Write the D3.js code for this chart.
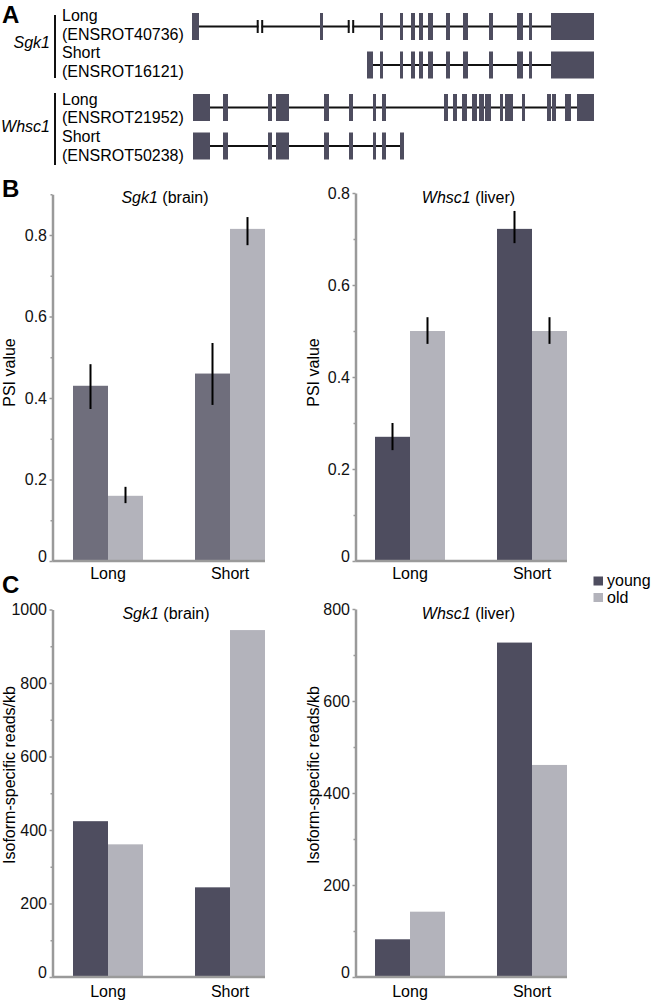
<!DOCTYPE html>
<html><head><meta charset="utf-8">
<script src="https://cdn.jsdelivr.net/npm/d3@7"></script>
<style>body{margin:0;background:#fff} text{font-family:"Liberation Sans",Arial,Helvetica,sans-serif}</style>
</head><body><svg id="c" width="652" height="1002"></svg>
<script>
// ---------- DATA ----------
const categories = ["Long", "Short"];
const seriesNames = ["young", "old"];

// Panel B: PSI values
const psiSgk1Young = [0.43, 0.46];
const psiSgk1Old = [0.16, 0.815];
const psiSgk1YoungErr = [[0.373, 0.483], [0.383, 0.535]];
const psiSgk1OldErr = [[0.142, 0.182], [0.775, 0.844]];
const psiWhsc1Young = [0.27, 0.722];
const psiWhsc1Old = [0.50, 0.50];
const psiWhsc1YoungErr = [[0.241, 0.30], [0.691, 0.761]];
const psiWhsc1OldErr = [[0.472, 0.53], [0.472, 0.53]];
const psiTicks = [0, 0.2, 0.4, 0.6, 0.8];
const psiMinorSgk1 = [0.1, 0.3, 0.5, 0.7, 0.9];
const psiMinorWhsc1 = [0.1, 0.3, 0.5, 0.7];

// Panel C: isoform-specific reads/kb
const readsSgk1Young = [424, 244];
const readsSgk1Old = [361, 944];
const readsWhsc1Young = [82, 727];
const readsWhsc1Old = [142, 461];
const readsTicksSgk1 = [0, 200, 400, 600, 800, 1000];
const readsMinorSgk1 = [100, 300, 500, 700, 900];
const readsTicksWhsc1 = [0, 200, 400, 600, 800];
const readsMinorWhsc1 = [100, 300, 500, 700];

// Panel A: gene structures (relative gene coordinates)
const geneNames = ["Sgk1", "Whsc1"];
const isoformLabels = ["Long", "Short", "Long", "Short"];
const isoformIds = ["(ENSROT40736)", "(ENSROT16121)", "(ENSROT21952)", "(ENSROT50238)"];
const exonsSgk1Long = [[0,7],[128,131],[188,191],[208,211],[219,223],[227,231],[236,241],[254,258],[271,276],[297,301],[325,331],[337,340],[359,402]];
const exonsSgk1Short = [[175,181],[188,191],[208,211],[219,223],[227,231],[236,241],[254,258],[271,276],[297,301],[325,331],[337,340],[359,402]];
const exonsWhsc1Long = [[1,18],[31,36],[76,80],[84,97],[132,137],[157,161],[181,184],[190,194],[252,256],[261,265],[270,275],[280,285],[287,292],[293,299],[308,311],[313,321],[330,333],[355,359],[360,364],[373,379],[385,402]];
const exonsWhsc1Short = [[1,18],[31,36],[76,80],[84,97],[132,137],[157,161],[181,184],[190,194],[208,212]];
const breaksSgk1Long = [68, 159];

// ---------- STYLE ----------
const DARK = "#4e4d5f", DARK_B = "#6f6e7c", LIGHT = "#b3b3bb", AXIS = "#9a9a9a";
const svg = d3.select("#c");

// ---------- PANEL A ----------
const xg = d3.scaleLinear().domain([0, 402]).range([192, 594]);
const rows = [
  {exons: exonsSgk1Long, breaks: breaksSgk1Long, cy: 26.5},
  {exons: exonsSgk1Short, breaks: [], cy: 65},
  {exons: exonsWhsc1Long, breaks: [], cy: 107.5},
  {exons: exonsWhsc1Short, breaks: [], cy: 146}
];
const gA = svg.append("g");
rows.forEach(r => {
  const s = d3.min(r.exons, d => d[0]), e = d3.max(r.exons, d => d[1]);
  gA.append("line").attr("x1", xg(s)).attr("x2", xg(e)).attr("y1", r.cy).attr("y2", r.cy)
    .attr("stroke", "#111").attr("stroke-width", 2);
  r.breaks.forEach(b => {
    const c = xg(b);
    gA.append("rect").attr("x", c - 1.5).attr("y", r.cy - 2).attr("width", 3).attr("height", 4).attr("fill", "#fff");
    gA.append("rect").attr("x", c - 3.3).attr("y", r.cy - 6.5).attr("width", 2).attr("height", 13).attr("fill", "#111");
    gA.append("rect").attr("x", c + 1.2).attr("y", r.cy - 6.5).attr("width", 2).attr("height", 13).attr("fill", "#111");
  });
  gA.selectAll(null).data(r.exons).join("rect")
    .attr("x", d => xg(d[0])).attr("width", d => xg(d[1]) - xg(d[0]))
    .attr("y", r.cy - 13.5).attr("height", 27).attr("fill", DARK);
});
// labels
const labelBase = [21, 39.5, 58, 77, 104.5, 123, 142, 161];
isoformLabels.forEach((l, i) => {
  gA.append("text").attr("x", 62).attr("y", labelBase[i*2]).attr("font-size", 16).text(l);
  gA.append("text").attr("x", 62).attr("y", labelBase[i*2+1]).attr("font-size", 16).text(isoformIds[i]);
});
[[15, 78, 47.5], [93, 165, 132]].forEach((v, i) => {
  gA.append("line").attr("x1", 55).attr("x2", 55).attr("y1", v[0]).attr("y2", v[1]).attr("stroke", "#111").attr("stroke-width", 2);
  gA.append("text").attr("x", 50).attr("y", v[2]).attr("text-anchor", "end").attr("font-size", 16)
    .attr("font-style", "italic").text(geneNames[i]);
});

// panel letters
[["A", 23], ["B", 197], ["C", 593]].forEach(([t, y]) => {
  svg.append("text").attr("x", 2).attr("y", y).attr("font-size", 24).attr("font-weight", "bold").text(t);
});

// ---------- BAR CHART ----------
function barChart(o) {
  const g = svg.append("g");
  const y = d3.scaleLinear().domain([0, o.axisMax]).range([o.yBase, o.yTop]);
  const x0 = d3.scaleBand().domain(categories).range([o.barStart, o.barEnd]).paddingInner(52/122).paddingOuter(0);
  const x1 = d3.scaleBand().domain(seriesNames).range([0, x0.bandwidth()]);
  const color = {young: o.youngColor, old: LIGHT};
  const vals = {young: o.young, old: o.old};
  const errs = {young: o.youngErr, old: o.oldErr};

  seriesNames.forEach(s => {
    g.selectAll(null).data(categories).join("rect")
      .attr("x", c => x0(c) + x1(s)).attr("width", x1.bandwidth())
      .attr("y", (c, i) => y(vals[s][i])).attr("height", (c, i) => o.yBase - y(vals[s][i]))
      .attr("fill", color[s]);
    if (errs[s]) {
      g.selectAll(null).data(categories).join("line")
        .attr("x1", c => x0(c) + x1(s) + x1.bandwidth()/2).attr("x2", c => x0(c) + x1(s) + x1.bandwidth()/2)
        .attr("y1", (c, i) => y(errs[s][i][0])).attr("y2", (c, i) => y(errs[s][i][1]))
        .attr("stroke", "#000").attr("stroke-width", 2);
    }
  });

  // baseline
  g.append("line").attr("x1", o.axisX).attr("x2", o.barEnd).attr("y1", o.yBase).attr("y2", o.yBase)
    .attr("stroke", AXIS).attr("stroke-width", 2.5);
  // minor ticks
  const minor = g.append("g").attr("transform", `translate(${o.axisX},0)`)
    .call(d3.axisLeft(y).tickValues(o.minor).tickSize(2).tickSizeOuter(0).tickFormat(""));
  minor.select(".domain").remove();
  minor.selectAll("line").attr("stroke", AXIS).attr("stroke-width", 1.5);
  // major axis
  const ax = g.append("g").attr("transform", `translate(${o.axisX},0)`)
    .call(d3.axisLeft(y).tickValues(o.ticks).tickSize(3).tickPadding(2.5).tickSizeOuter(0).tickFormat(o.fmt));
  ax.select(".domain").attr("stroke", AXIS).attr("stroke-width", 2.5);
  ax.selectAll(".tick line").attr("stroke", AXIS).attr("stroke-width", 1.5);
  ax.selectAll(".tick text").attr("font-size", 16).attr("fill", "#111")
    .attr("font-family", '"Liberation Sans",Arial,sans-serif')
    .attr("dy", d => d === 0 ? "0.02em" : "0.32em");

  // x labels
  g.selectAll(null).data(categories).join("text")
    .attr("x", c => x0(c) + x0.bandwidth()/2).attr("y", o.xLabelY)
    .attr("text-anchor", "middle").attr("font-size", 16).text(c => c);

  // title
  const t = g.append("text").attr("x", o.titleX).attr("y", o.titleY).attr("text-anchor", "middle").attr("font-size", 16);
  t.append("tspan").attr("font-style", "italic").text(o.gene);
  t.append("tspan").text(" " + o.tissue);

  // y label
  g.append("text").attr("transform", `translate(${o.yLabelX},${o.yLabelY}) rotate(-90)`)
    .attr("text-anchor", "middle").attr("font-size", 16).text(o.yLabel);
}

const fmtPsi = d => d === 0 ? "0" : d3.format(".1f")(d);
const fmtReads = d => String(d);

barChart({axisX: 52.5, barStart: 73, barEnd: 265, yBase: 561, axisMax: 0.9, yTop: 561 - 0.9*407.5,
  ticks: psiTicks, minor: psiMinorSgk1, fmt: fmtPsi,
  young: psiSgk1Young, old: psiSgk1Old, youngErr: psiSgk1YoungErr, oldErr: psiSgk1OldErr, youngColor: DARK_B,
  xLabelY: 579, titleX: 165, titleY: 203, gene: "Sgk1", tissue: "(brain)",
  yLabel: "PSI value", yLabelX: 15, yLabelY: 372.5});

barChart({axisX: 355.5, barStart: 375, barEnd: 567, yBase: 561, axisMax: 0.8, yTop: 193,
  ticks: psiTicks, minor: psiMinorWhsc1, fmt: fmtPsi,
  young: psiWhsc1Young, old: psiWhsc1Old, youngErr: psiWhsc1YoungErr, oldErr: psiWhsc1OldErr, youngColor: DARK,
  xLabelY: 579, titleX: 468.5, titleY: 203, gene: "Whsc1", tissue: "(liver)",
  yLabel: "PSI value", yLabelX: 319, yLabelY: 372.5});

barChart({axisX: 52.5, barStart: 73, barEnd: 265, yBase: 977, axisMax: 1000, yTop: 609.5,
  ticks: readsTicksSgk1, minor: readsMinorSgk1, fmt: fmtReads,
  young: readsSgk1Young, old: readsSgk1Old, youngColor: DARK,
  xLabelY: 997, titleX: 166, titleY: 619, gene: "Sgk1", tissue: "(brain)",
  yLabel: "Isoform-specific reads/kb", yLabelX: 15, yLabelY: 775});

barChart({axisX: 355.5, barStart: 375, barEnd: 567, yBase: 977, axisMax: 800, yTop: 609,
  ticks: readsTicksWhsc1, minor: readsMinorWhsc1, fmt: fmtReads,
  young: readsWhsc1Young, old: readsWhsc1Old, youngColor: DARK,
  xLabelY: 997, titleX: 468.5, titleY: 619, gene: "Whsc1", tissue: "(liver)",
  yLabel: "Isoform-specific reads/kb", yLabelX: 319, yLabelY: 775});

// legend
const legendColors = [DARK, LIGHT];
const lg = svg.append("g");
seriesNames.forEach((s, i) => {
  lg.append("rect").attr("x", 593.5).attr("y", 576.5 + i*16.5).attr("width", 9.5).attr("height", 9)
    .attr("fill", legendColors[i]);
  lg.append("text").attr("x", 607).attr("y", 585.5 + i*17.5).attr("font-size", 16).text(s);
});
</script></body></html>
